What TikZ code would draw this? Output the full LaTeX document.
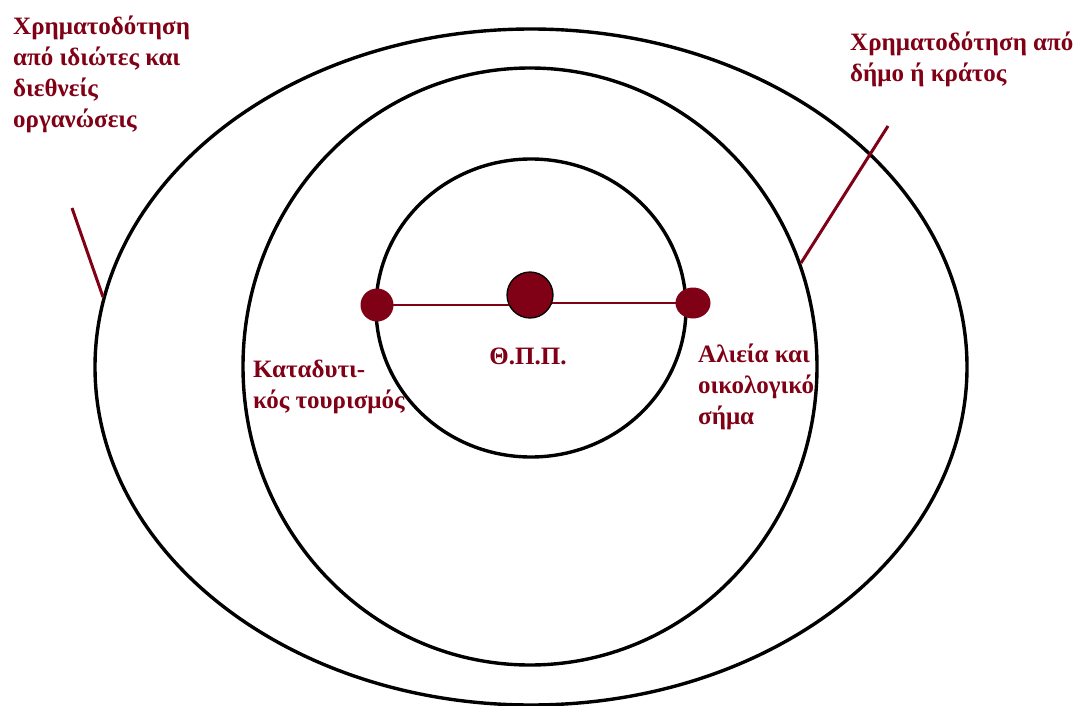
\documentclass[tikz,border=0pt]{standalone}
\usepackage{fontspec}
\setmainfont{Liberation Serif}
\usetikzlibrary{shapes.geometric,backgrounds}
\definecolor{dred}{RGB}{128,0,21}
\begin{document}
\begin{tikzpicture}[x=1pt,y=-1pt,
  ring/.style={draw=black, line width=3.4pt},
  lbl/.style={text=dred, font=\fontsize{25}{31}\selectfont\bfseries, align=left, inner sep=0pt, anchor=base west},
  dot/.style={circle, fill=dred, inner sep=0pt},
  lead/.style={draw=dred, line width=3pt},
  link/.style={draw=dred, line width=1.5pt}]
\useasboundingbox (0,0) rectangle (1078,706);
% dots
\node[dot, minimum size=33pt] (ld) at (377,305) {};
\node[dot, draw=black, line width=1.3pt, minimum size=46pt] (cd) at (530,295) {};
\node[dot, ellipse, minimum width=35pt, minimum height=31pt] (rd) at (693,303) {};
\begin{scope}[on background layer]
  \draw[ring] (531,367) ellipse [x radius=436pt, y radius=338pt];
  \draw[ring] (530,366.5) ellipse [x radius=287pt, y radius=298.5pt];
  \draw[ring] (531,308) ellipse [x radius=155pt, y radius=149pt];
  \draw[link] (ld.center) -- (ld.center -| cd.center);
  \draw[link] (cd.center |- rd.center) -- (rd.center);
\end{scope}
% leaders
\coordinate (la) at (72,208);
\coordinate (lb) at (103,297);
\coordinate (ra) at (888,126);
\coordinate (rb) at (801,263);
\draw[lead] (la) -- (lb);
\draw[lead] (ra) -- (rb);
% labels (base = last line's baseline)
\node[lbl] (tl) at (13,128) {Χρηματοδότηση\\από ιδιώτες και\\διεθνείς\\οργανώσεις};
\node[lbl] (tr) at (850,82) {Χρηματοδότηση από\\δήμο ή κράτος};
\node[lbl, anchor=base] (thpp) at (528,364) {Θ.Π.Π.};
\node[lbl] (kt) at (253,408) {Καταδυτι-\\κός τουρισμός};
\node[lbl] (al) at (698,424) {Αλιεία και\\οικολογικό\\σήμα};
\end{tikzpicture}
\end{document}
